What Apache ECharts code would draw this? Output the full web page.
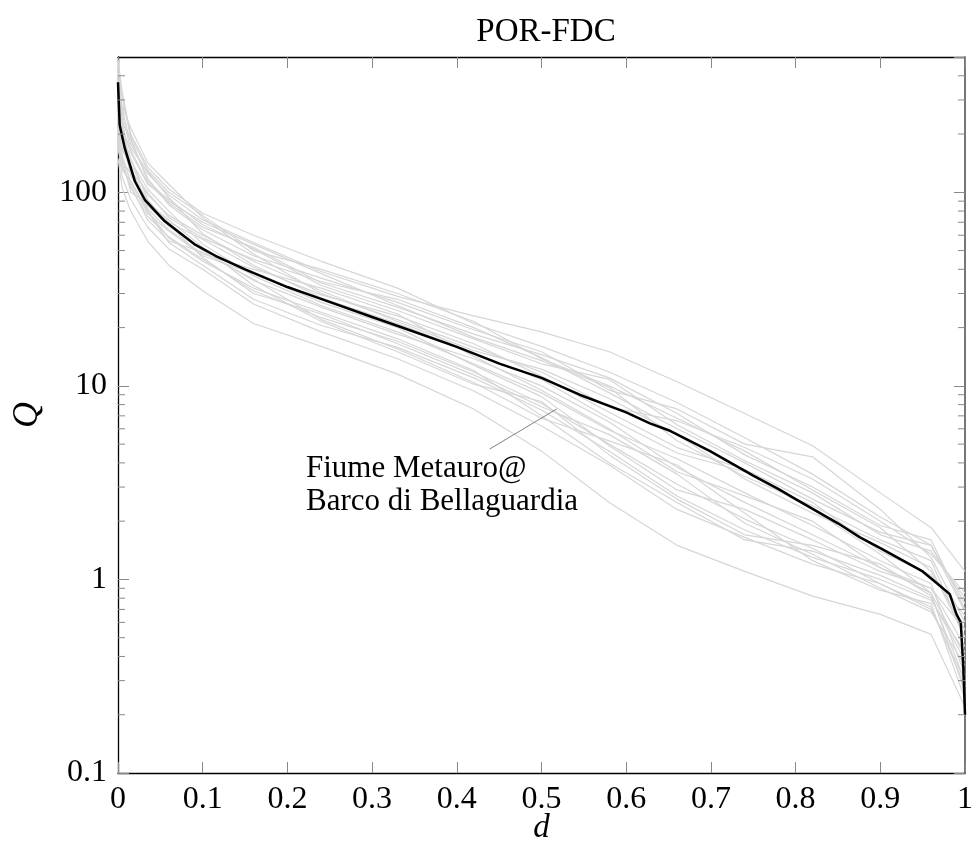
<!DOCTYPE html>
<html>
<head>
<meta charset="utf-8">
<script src="https://cdn.jsdelivr.net/npm/echarts@6/dist/echarts.min.js"></script>
<style>html,body{margin:0;padding:0;background:#fff}#c{width:973px;height:850px}</style>
</head>
<body>
<div id="c"></div>
<script>
// exceedance durations shared by the grey (other station) curves
const dGrid = [0, 0.005, 0.015, 0.035, 0.06, 0.1, 0.16, 0.24, 0.33, 0.42, 0.5, 0.58, 0.66, 0.74, 0.82, 0.9, 0.96, 1];
const g01 = [460,305,200,135,104,78,60,44,32,21,16,11.8,8.2,5.4,3.5,2.1,1.5,0.75];
const g02 = [390,270,178,125,97,72,55,39,29,23,19,15,10.5,7.2,4.9,2.8,1.85,1.1];
const g03 = [310,230,185,118,86,64,47,36,27,19.5,15,9.5,7.6,5.0,4.3,2.3,1.3,0.6];
const g04 = [275,215,160,110,92,68,51,33,24.5,17.5,13,10.8,6.3,4.1,2.8,1.7,1.4,0.8];
const g05 = [230,165,140,97,76,60,44,31,21.5,15.2,12.2,8.6,5.6,3.3,2.2,1.55,1.15,0.5];
const g06 = [360,220,132,90,70,57,41,29.5,23,16.5,11.2,7.3,4.8,3.7,2.5,1.4,1.05,0.65];
const g07 = [330,195,122,85,67,50,35,25.5,18.5,13.8,10,6.5,3.8,2.5,1.7,1.15,0.85,0.4];
const g08 = [260,185,145,104,80,54,37,26,19,13,9.2,5.9,4.2,2.8,1.9,1.25,0.95,0.32];
const g09 = [215,140,106,75,59,45,31,22.5,17,11.8,8.1,5.0,3.1,2.05,1.45,0.95,0.72,0.28];
const g10 = [185,130,115,80,55,42,28,20.5,15.8,11,7.5,4.6,2.7,1.8,1.3,1.0,0.78,0.42];
const g11 = [175,120,92,66,51,40,26.5,19,13.8,9.4,6.2,3.9,2.3,1.65,1.2,0.95,0.7,0.3];
const g12 = [150,105,80,56,42,31,21,16,11.5,7.6,4.6,2.5,1.5,1.1,0.82,0.66,0.52,0.22];
const g13 = [430,255,165,112,88,66,52,34,25.5,18.5,14.5,11,7.2,4.4,3.0,1.9,1.6,0.7];
const g14 = [300,280,215,142,110,74,48,30,22,15.8,11.8,7.8,6.6,4.8,3.3,2.0,1.35,0.85];
const g15 = [250,155,112,78,63,47,38,27,20,12.8,8.8,4.9,2.9,2.3,1.6,1.1,0.9,0.45];
const g16 = [240,200,150,92,68,46,30,23.5,16.5,11.4,7.8,5.6,3.5,1.95,1.35,0.9,0.68,0.36];
const g17 = [200,150,100,88,72,52,33,21.5,15,10.2,8.3,4.4,2.6,1.7,1.5,1.2,0.82,0.3];
const g18 = [165,145,125,82,64,48,40,32,23.5,14.2,9.5,6.0,3.6,2.7,2.0,1.15,0.9,0.55];
const g19 = [370,320,190,115,90,70,54,38,26,17.8,13.5,9.8,5.2,3.4,2.4,1.6,1.25,0.5];
const g20 = [285,205,170,128,94,61,42,28.5,21,14.8,10.8,6.8,4.5,3.6,2.3,1.35,0.85,0.26];
const g21 = [220,170,130,100,74,58,45,34.5,28,20,14,9.2,6.0,4.0,2.6,1.75,1.5,0.68];
const g22 = [340,240,128,80,58,44,32,24,17.5,12,7.0,4.0,2.5,1.6,1.4,1.05,0.8,0.38];
const g23 = [195,135,108,72,56,49,35.5,22,15.5,10.4,6.8,5.2,3.9,2.2,1.25,0.88,0.75,0.24];
const g24 = [480,330,195,130,100,76,50,40,30,21.5,13.8,10,6.8,4.6,2.9,1.85,1.1,0.55];
const greyCurves = [g01,g02,g03,g04,g05,g06,g07,g08,g09,g10,g11,g12,g13,g14,g15,g16,g17,g18,g19,g20,g21,g22,g23,g24];

// highlighted station: Fiume Metauro @ Barco di Bellaguardia
const blackD = [0, 0.002, 0.008, 0.02, 0.032, 0.055, 0.09, 0.115, 0.15, 0.2, 0.233, 0.3, 0.333, 0.4, 0.451, 0.5, 0.545, 0.6, 0.628, 0.65, 0.699, 0.75, 0.78, 0.8, 0.85, 0.876, 0.9, 0.95, 0.97, 0.982, 0.99, 0.995, 0.998, 1];
const blackQ = [370, 222, 169, 114, 91, 71, 54, 47, 40, 32.4, 28.8, 22.7, 20.2, 15.9, 13.0, 11.0, 9.0, 7.3, 6.4, 5.9, 4.6, 3.44, 2.93, 2.6, 1.95, 1.65, 1.45, 1.1, 0.93, 0.84, 0.66, 0.6, 0.35, 0.2];

// axis tick values
const yMinorTicks = [0.2,0.3,0.4,0.5,0.6,0.7,0.8,0.9,2,3,4,5,6,7,8,9,20,30,40,50,60,70,80,90,200,300,400];
const pinFrom = [0.439, 4.72];
const pinTo = [0.518, 7.6];

const FONT = 'Liberation Serif';
const chart = echarts.init(document.getElementById('c'), null, {renderer: 'canvas'});

const series = greyCurves.map((c, i) => ({
  type: 'line', name: 'g' + i, data: dGrid.map((d, k) => [d, c[k]]),
  showSymbol: false, symbol: 'none', silent: true,
  lineStyle: {color: '#d6d6d6', width: 1.2}, z: 2
}));
series.push({
  type: 'line', name: 'Metauro', data: blackD.map((d, k) => [d, blackQ[k]]),
  showSymbol: false, symbol: 'none', silent: true,
  lineStyle: {color: '#000', width: 2.5}, z: 5,
  markLine: {
    silent: true, symbol: ['none', 'none'], label: {show: false},
    lineStyle: {color: '#808080', width: 1, type: 'solid'},
    data: [[{coord: pinFrom}, {coord: pinTo}]]
  }
});
series.push({
  type: 'custom', name: 'minorTicks', silent: true, z: 10,
  data: yMinorTicks.map(v => [0, v]),
  encode: {x: 0, y: 1},
  renderItem: function (params, api) {
    const v = api.value(1);
    const pl = api.coord([0, v]);
    const pr = api.coord([1, v]);
    return {type: 'group', children: [
      {type: 'line', shape: {x1: pl[0], y1: pl[1], x2: pl[0] + 7, y2: pl[1]}, style: {stroke: '#888', lineWidth: 1}},
      {type: 'line', shape: {x1: pr[0] - 7, y1: pr[1], x2: pr[0], y2: pr[1]}, style: {stroke: '#888', lineWidth: 1}}
    ]};
  }
});

const xCommon = {
  type: 'value', min: 0, max: 1, interval: 0.1,
  splitLine: {show: false},
  axisTick: {show: true, inside: true, length: 11, lineStyle: {color: '#888', width: 1}}
};

chart.setOption({
  animation: false,
  backgroundColor: '#fff',
  title: {
    text: 'POR-FDC', left: 541, top: 11, textAlign: 'center',
    textStyle: {fontFamily: FONT, fontSize: 33, fontWeight: 'normal', color: '#000'}
  },
  grid: {left: 118, right: 8, top: 57, bottom: 77, containLabel: false, outerBoundsMode: 'none'},
  xAxis: [
    Object.assign({}, xCommon, {
      position: 'bottom',
      axisLine: {show: true, onZero: false, lineStyle: {color: '#000', width: 1.3}},
      axisLabel: {show: true, margin: 11, fontFamily: FONT, fontSize: 32, color: '#000'},
      name: 'd', nameLocation: 'middle', nameGap: 39, nameMoveOverlap: false,
      nameTextStyle: {fontFamily: FONT, fontSize: 33, fontStyle: 'italic', color: '#000'}
    }),
    Object.assign({}, xCommon, {
      position: 'top',
      axisLine: {show: true, onZero: false, lineStyle: {color: '#000', width: 1.3}},
      axisLabel: {show: false}
    })
  ],
  yAxis: [
    {
      type: 'log', logBase: 10, min: 0.1, max: 500, position: 'left',
      splitLine: {show: false},
      axisLine: {show: true, onZero: false, lineStyle: {color: '#000', width: 1.3}},
      axisTick: {show: true, inside: true, length: 11, lineStyle: {color: '#888', width: 1}},
      axisLabel: {show: true, margin: 11, showMaxLabel: false, fontFamily: FONT, fontSize: 32, color: '#000',
        formatter: function (v) { return String(v); }},
      name: 'Q', nameLocation: 'middle', nameGap: 72, nameRotate: 90, nameMoveOverlap: false,
      nameTextStyle: {fontFamily: FONT, fontSize: 36, fontStyle: 'italic', color: '#000'}
    },
    {
      type: 'log', logBase: 10, min: 0.1, max: 500, position: 'right',
      splitLine: {show: false},
      axisLine: {show: true, onZero: false, lineStyle: {color: '#555', width: 1.6}},
      axisTick: {show: true, inside: true, length: 11, lineStyle: {color: '#888', width: 1}},
      axisLabel: {show: false}
    }
  ],
  graphic: [{
    type: 'text', left: 306, top: 452, z: 20,
    style: {text: 'Fiume Metauro@\nBarco di Bellaguardia', font: '31px "Liberation Serif"', fill: '#000', lineHeight: 33}
  }],
  series: series
});
</script>
</body>
</html>
